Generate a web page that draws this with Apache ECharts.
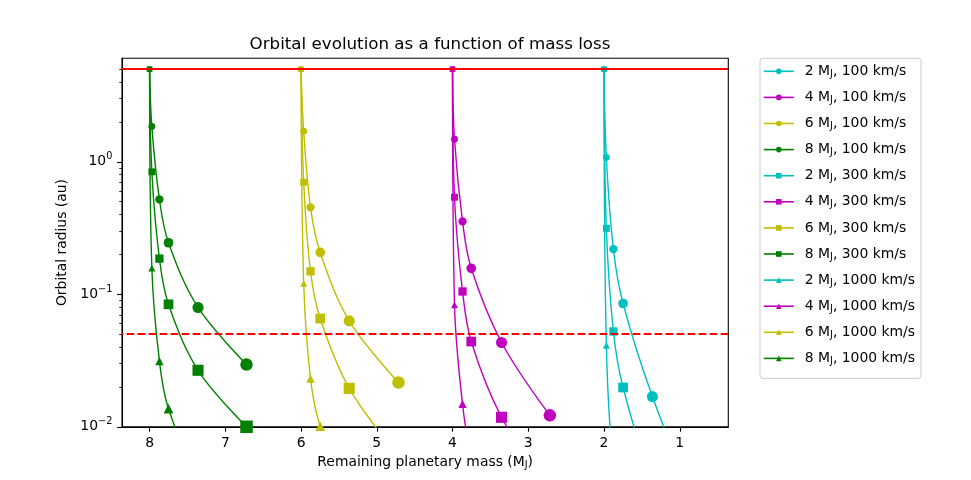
<!DOCTYPE html>
<html><head><meta charset="utf-8">
<script src="https://cdn.jsdelivr.net/npm/echarts@6/dist/echarts.min.js"></script>
<style>html,body{margin:0;padding:0;background:#fff}#c{width:971px;height:480px}</style>
</head><body><div id="c"></div>
<script>
// Remaining planetary mass at each marked step (M_J), per initial mass
const mass2 = [2, 1.969, 1.876, 1.748, 1.361, 0.72];
const mass4 = [4, 3.974, 3.868, 3.753, 3.353, 2.715];
const mass6 = [6, 5.965, 5.875, 5.747, 5.364, 4.714];
const mass8 = [8, 7.97, 7.87, 7.75, 7.36, 6.72];

// Orbital radius (au) at those steps
const radius2_100 = [5, 1.08, 0.219, 0.0852, 0.0169, 0.0020];
const radius4_100 = [5, 1.48, 0.355, 0.157, 0.0433, 0.0122];
const radius6_100 = [5, 1.70, 0.453, 0.207, 0.063, 0.0216];
const radius8_100 = [5, 1.85, 0.52, 0.245, 0.0795, 0.0295];
const radius2_300 = [5, 0.314, 0.0524, 0.0198, 0.0037, 0.0004];
const radius4_300 = [5, 0.54, 0.105, 0.044, 0.0118, 0.0033];
const radius6_300 = [5, 0.70, 0.149, 0.0656, 0.0195, 0.006];
const radius8_300 = [5, 0.84, 0.186, 0.084, 0.0267, 0.0100];
const radius2_1000 = [5, 0.0413, 0.005, 0.0024, 0.00046, 0.00005];
const radius4_1000 = [5, 0.0832, 0.0149, 0.0063, 0.0017, 0.00046];
const radius6_1000 = [5, 0.121, 0.0231, 0.0101, 0.003, 0.001];
const radius8_1000 = [5, 0.158, 0.0313, 0.0137, 0.0042, 0.0015];

const initialMasses = [2, 4, 6, 8];
const velocities = [100, 300, 1000];
const xTickValues = [1, 2, 3, 4, 5, 6, 7, 8];
const yTickValues = [0.01, 0.1, 1];
const yMinorTickValues = [0.02,0.03,0.04,0.05,0.06,0.07,0.08,0.09,0.2,0.3,0.4,0.5,0.6,0.7,0.8,0.9,2,3,4,5];
const initialRadius = 5;
const innerEdge = 0.05;

const massTable = {2: mass2, 4: mass4, 6: mass6, 8: mass8};
const radiusTable = {
  '2_100': radius2_100, '4_100': radius4_100, '6_100': radius6_100, '8_100': radius8_100,
  '2_300': radius2_300, '4_300': radius4_300, '6_300': radius6_300, '8_300': radius8_300,
  '2_1000': radius2_1000, '4_1000': radius4_1000, '6_1000': radius6_1000, '8_1000': radius8_1000
};

const colors = {2: '#00bfbf', 4: '#bf00bf', 6: '#bfbf00', 8: '#008000'};
const symbols = {100: 'circle', 300: 'rect', 1000: 'triangle'};
const markerSizes = [5.6, 6.9, 8.3, 9.7, 11.1, 12.5];
const FONT = 'DejaVu Sans';

const series = [];
const names = [];
velocities.forEach(v => {
  initialMasses.forEach(m0 => {
    const name = m0 + ' MJ, ' + v + ' km/s';
    names.push(name);
    const xs = massTable[m0], ys = radiusTable[m0 + '_' + v];
    series.push({
      name: name,
      type: 'line',
      data: xs.map((x, i) => [x, ys[i]]),
      smooth: 0.35,
      symbol: symbols[v],
      symbolSize: (val, p) => markerSizes[p.dataIndex],
      showAllSymbol: true,
      clip: true,
      color: colors[m0],
      lineStyle: {width: 1.4, color: colors[m0]},
      itemStyle: {color: colors[m0]},
      emphasis: {disabled: true},
      animation: false,
      z: 3
    });
  });
});
series.push({
  name: 'limits',
  type: 'line',
  data: [],
  silent: true,
  animation: false,
  markLine: {
    silent: true,
    symbol: ['none', 'none'],
    label: {show: false},
    animation: false,
    data: [
      {yAxis: initialRadius, lineStyle: {color: '#ff0000', width: 2, type: 'solid'}},
      {yAxis: innerEdge, lineStyle: {color: '#ff0000', width: 2, type: [7.7, 3.3]}}
    ]
  },
  z: 4
});

const supLabel = v => {
  const e = Math.round(Math.log10(v));
  return '{b|10}{s|' + (e < 0 ? '\u2212' + (-e) : e) + '}';
};

const chart = echarts.init(document.getElementById('c'), null, {renderer: 'canvas'});
chart.setOption({
  animation: false,
  backgroundColor: '#fff',
  title: {
    text: 'Orbital evolution as a function of mass loss',
    left: 425, top: 31, textAlign: 'center',
    textStyle: {fontFamily: FONT, fontSize: 16.7, fontWeight: 'normal', color: '#000'}
  },
  grid: {left: 122, top: 58.3, width: 606.3, height: 368.5, show: true, borderColor: '#000', borderWidth: 1.1, backgroundColor: 'transparent'},
  legend: {
    orient: 'vertical',
    left: 760, top: 58.3,
    padding: [6, 6, 12, 3],
    itemWidth: 30, itemHeight: 7, itemGap: 11.1,
    data: names,
    backgroundColor: '#fff',
    borderColor: '#cccccc', borderWidth: 1, borderRadius: 3,
    lineStyle: {width: 1.6},
    formatter: name => {
      const p = name.split(' MJ');
      return '{a|' + p[0] + ' M}{s|J}{t|' + p[1] + '}';
    },
    textStyle: {
      fontFamily: FONT, fontSize: 13.9, color: '#000',
      rich: {
        a: {fontFamily: FONT, fontSize: 13.9, color: '#000', lineHeight: 16, padding: [0, 0, 0, 6]},
        t: {fontFamily: FONT, fontSize: 13.9, color: '#000', lineHeight: 16},
        s: {fontFamily: FONT, fontSize: 9.7, color: '#000', lineHeight: 10, verticalAlign: 'bottom'}
      }
    }
  },
  xAxis: {
    type: 'value', inverse: true, min: 0.359, max: 8.364,
    name: '{t|Remaining planetary mass (M}{s|J}{t|)}',
    nameLocation: 'middle', nameGap: 24,
    nameTextStyle: {
      fontFamily: FONT, fontSize: 13.9, color: '#000',
      rich: {
        t: {fontFamily: FONT, fontSize: 13.9, color: '#000', lineHeight: 16},
        s: {fontFamily: FONT, fontSize: 9.7, color: '#000', lineHeight: 10, verticalAlign: 'bottom'}
      }
    },
    axisLine: {show: true, onZero: false, lineStyle: {color: '#000', width: 1.1}},
    axisTick: {show: true, length: 4.9, lineStyle: {color: '#000', width: 1.1}, customValues: xTickValues},
    axisLabel: {show: true, margin: 9.7, fontFamily: FONT, fontSize: 13.9, color: '#000', customValues: xTickValues},
    splitLine: {show: false}
  },
  yAxis: [{
    type: 'log', logBase: 10, min: 0.01, max: 6.04,
    name: 'Orbital radius (au)',
    nameLocation: 'middle', nameGap: 46,
    nameTextStyle: {fontFamily: FONT, fontSize: 13.9, color: '#000'},
    axisLine: {show: true, onZero: false, lineStyle: {color: '#000', width: 1.1}},
    axisTick: {show: true, length: 4.9, lineStyle: {color: '#000', width: 1.1}, customValues: yTickValues},
    axisLabel: {
      show: true, margin: 9.7, customValues: yTickValues,
      formatter: supLabel,
      rich: {
        b: {fontFamily: FONT, fontSize: 13.9, color: '#000', lineHeight: 20},
        s: {fontFamily: FONT, fontSize: 9.7, color: '#000', lineHeight: 10, verticalAlign: 'top'}
      }
    },
    splitLine: {show: false}
  }, {
    type: 'log', logBase: 10, min: 0.01, max: 6.04, position: 'left',
    axisLine: {show: false},
    axisTick: {show: true, length: 2.8, lineStyle: {color: '#000', width: 0.8}, customValues: yMinorTickValues},
    axisLabel: {show: false},
    splitLine: {show: false}
  }],
  series: series
});
</script>
</body></html>
